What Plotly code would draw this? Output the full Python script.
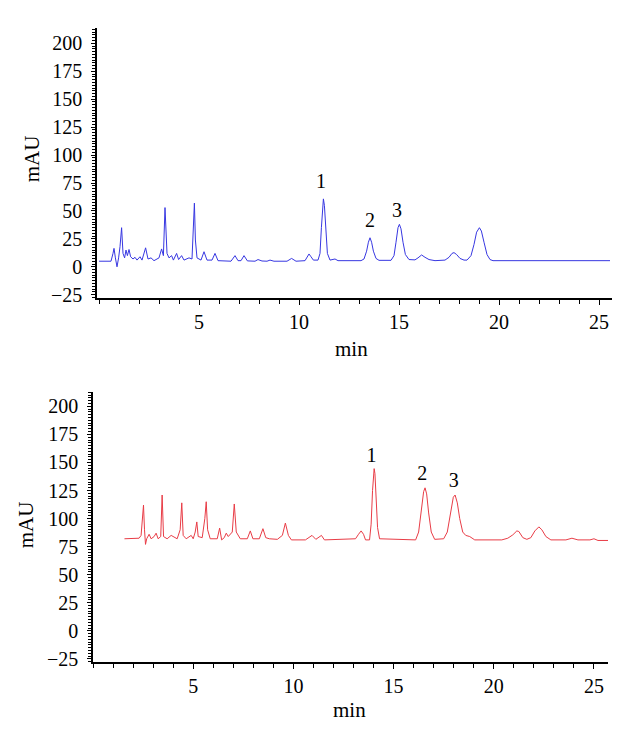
import plotly.graph_objects as go

W, H = 629, 743

# ---- Data ----
# Top chromatogram (blue): retention time (min) and signal (mAU)
top_t = [0.0, 0.6, 0.7, 0.75, 0.82, 0.9, 0.98, 1.05, 1.13, 1.2, 1.28, 1.35, 1.42, 1.5, 1.58,
         1.7, 1.8, 1.9, 2.05, 2.15, 2.33, 2.45, 2.6, 2.75, 3.0, 3.13, 3.22, 3.3, 3.4, 3.5,
         3.63, 3.72, 3.88, 3.98, 4.13, 4.25, 4.5, 4.65, 4.77, 4.82, 4.9, 5.1, 5.25, 5.4, 5.65,
         5.8, 5.95, 6.6, 6.8, 6.95, 7.1, 7.25, 7.42, 7.8, 7.95, 8.15, 8.4, 8.55, 8.75, 9.4,
         9.63, 9.85, 10.3, 10.42, 10.5, 10.6, 10.72, 10.95, 11.05, 11.12, 11.18, 11.22, 11.27,
         11.33, 11.42, 11.55, 11.8, 11.95, 13.1, 13.25, 13.38, 13.47, 13.55, 13.63, 13.72,
         13.85, 14.0, 14.6, 14.75, 14.85, 14.95, 15.02, 15.1, 15.2, 15.32, 15.5, 15.8, 15.95,
         16.13, 16.3, 16.5, 16.8, 17.3, 17.5, 17.65, 17.75, 17.88, 18.05, 18.25, 18.4, 18.6,
         18.75, 18.88, 19.02, 19.12, 19.25, 19.4, 19.55, 19.7, 25.55]
top_mau = [5, 5, 12, 16.5, 8, 0, 8, 18, 35, 12, 8, 15, 10, 15.5, 9,
           7, 8.5, 6, 9, 6, 17, 7, 8, 5.5, 8, 16, 10, 53, 12, 8,
           10, 6, 12, 6.5, 10, 6, 8, 7, 57, 24, 8, 6, 13.5, 6, 6,
           12, 5.5, 5, 10, 5.5, 5.5, 10, 5.3, 5, 6.5, 5.2, 5, 6, 5, 5,
           7.5, 5, 5.5, 9, 11.5, 9, 6, 6, 12, 35, 56, 60.8, 55,
           35, 12, 6, 7, 5.5, 5.5, 7, 14, 22, 26, 22, 14,
           7.5, 5.8, 5.8, 10, 22, 35, 38, 34, 22, 11, 6.5, 6.2, 8,
           10.6, 8.5, 6.5, 5.5, 6, 8.5, 12, 12.7, 11, 7.5, 6, 6, 10,
           20, 31, 35, 32, 22, 11, 6.5, 5.5, 5.5]

# Bottom chromatogram (red)
bot_t = [1.57, 2.3, 2.4, 2.47, 2.52, 2.57, 2.62, 2.68, 2.8, 2.9, 3.05, 3.15, 3.25, 3.38, 3.45,
         3.52, 3.7, 3.9, 4.0, 4.2, 4.35, 4.43, 4.5, 4.65, 4.9, 5.0, 5.1, 5.18, 5.25, 5.45,
         5.58, 5.65, 5.72, 5.85, 6.2, 6.32, 6.42, 6.55, 6.65, 6.75, 6.95, 7.05, 7.15, 7.35,
         7.7, 7.85, 7.98, 8.3, 8.48, 8.62, 8.8, 9.2, 9.45, 9.6, 9.75, 9.9, 10.6, 10.93, 11.12,
         11.4, 11.55, 13.1, 13.25, 13.38, 13.5, 13.6, 13.8, 13.88, 13.95, 14.0, 14.03, 14.07,
         14.13, 14.2, 14.3, 16.1, 16.25, 16.38, 16.5, 16.57, 16.65, 16.75, 16.88, 17.05, 17.5,
         17.68, 17.85, 17.98, 18.07, 18.18, 18.3, 18.45, 18.6, 18.8, 19.05, 20.4, 20.7, 20.95,
         21.15, 21.25, 21.45, 21.65, 21.85, 22.05, 22.25, 22.4, 22.6, 22.85, 23.6, 23.9, 24.2,
         24.8, 25.0, 25.2, 25.7]
bot_mau = [82, 82.5, 85, 100, 112, 90, 77, 82, 86, 82, 84, 87, 82, 84, 121,
           84, 82, 85, 84, 82, 90, 114, 85, 82, 85, 82, 88, 97, 84, 83,
           100, 115, 90, 82, 82, 91.5, 81, 83, 87, 84, 88, 113, 88, 82,
           82, 89, 82, 82, 91, 83, 82, 81.5, 85, 96, 85, 81, 81, 85, 81.5,
           85, 81, 82, 86, 89, 86, 81, 81, 95, 125, 142, 144.5, 140,
           118, 92, 82, 81, 88, 108, 124, 127.4, 122, 105, 88, 81.5, 82,
           88, 105, 119, 121, 114, 100, 88, 85, 84, 81, 81, 82.5, 85.5,
           89, 88.5, 83, 81.5, 83, 89, 92.6, 90, 84, 81, 81, 82.5, 81,
           81, 82, 80.5, 80.5]

peak_labels = ["1", "2", "3"]
top_label_t = [11.1, 13.55, 14.9]
top_label_y = [75, 40, 49]
bot_label_t = [13.9, 16.43, 18.0]
bot_label_y = [155, 139, 133]

x_ticks = [5, 10, 15, 20, 25]
y_ticks = [-25, 0, 25, 50, 75, 100, 125, 150, 175, 200]

FONT = "Liberation Serif"

fig = go.Figure()
fig.add_trace(go.Scatter(x=top_t, y=top_mau, mode="lines",
                         line=dict(color="rgb(55,55,225)", width=1), xaxis="x", yaxis="y",
                         showlegend=False, hoverinfo="skip"))
fig.add_trace(go.Scatter(x=bot_t, y=bot_mau, mode="lines",
                         line=dict(color="rgb(232,60,70)", width=1), xaxis="x2", yaxis="y2",
                         showlegend=False, hoverinfo="skip"))
fig.add_trace(go.Scatter(x=top_label_t, y=top_label_y, mode="text", text=peak_labels,
                         textfont=dict(family=FONT, size=20, color="black"),
                         xaxis="x", yaxis="y", showlegend=False, hoverinfo="skip"))
fig.add_trace(go.Scatter(x=bot_label_t, y=bot_label_y, mode="text", text=peak_labels,
                         textfont=dict(family=FONT, size=20, color="black"),
                         xaxis="x2", yaxis="y2", showlegend=False, hoverinfo="skip"))

def xaxis(domain, rng, anchor):
    return dict(domain=domain, range=rng, anchor=anchor, showline=True, linecolor="black",
                linewidth=1.5, showgrid=False, zeroline=False, ticks="outside", ticklen=5,
                tickwidth=1.2, tickcolor="black", tickvals=x_ticks,
                tickfont=dict(family=FONT, size=20, color="black"),
                minor=dict(dtick=1, tick0=0, ticks="outside", ticklen=4, tickcolor="black",
                           tickwidth=1),
                fixedrange=True)

def yaxis(domain, rng, anchor):
    return dict(domain=domain, range=rng, anchor=anchor, showline=True, linecolor="black",
                linewidth=1.5, showgrid=False, zeroline=False, ticks="outside", ticklen=4,
                tickwidth=1.2, tickcolor="black", tickvals=y_ticks, ticklabelstandoff=5,
                tickfont=dict(family=FONT, size=20, color="black"),
                minor=dict(dtick=2.5, tick0=0, ticks="outside", ticklen=3, tickcolor="black",
                           tickwidth=1),
                fixedrange=True)

def title(text, x, y, angle=0):
    return dict(text=text, x=x / W, y=1 - y / H, xref="paper", yref="paper", textangle=angle,
                xanchor="center", yanchor="middle", showarrow=False,
                font=dict(family=FONT, size=21, color="black"))

fig.update_layout(
    width=W, height=H, margin=dict(l=0, r=0, t=0, b=0),
    paper_bgcolor="white", plot_bgcolor="white",
    xaxis=xaxis([97 / W, 612 / W], [-0.1, 25.65], "y"),
    yaxis=yaxis([1 - 301 / H, 1 - 28 / H], [-27.7, 214], "x"),
    xaxis2=xaxis([93 / W, 608 / W], [0, 25.7], "y2"),
    yaxis2=yaxis([1 - 669 / H, 1 - 396 / H], [-27.6, 213], "x2"),
    annotations=[
        title("mAU", 32, 161, -90),
        title("min", 351, 353),
        title("mAU", 26, 530, -90),
        title("min", 350, 718),
    ],
)

fig.write_html("out.html", config={"displayModeBar": False},
               post_script="document.body.style.margin='0';")
